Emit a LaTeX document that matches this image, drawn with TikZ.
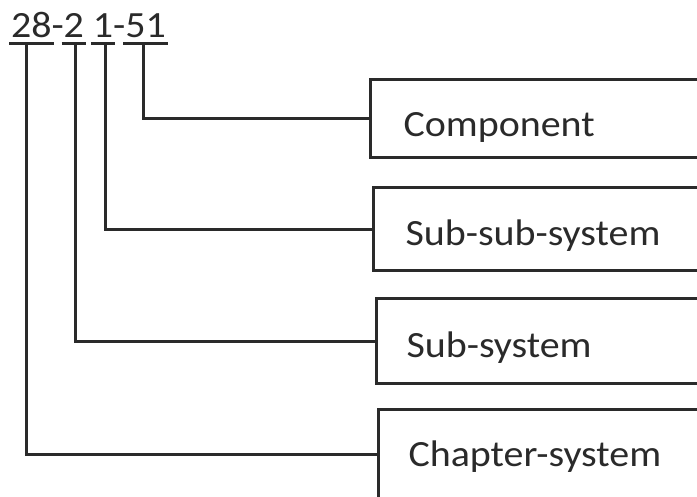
\documentclass[tikz,border=0pt]{standalone}
\usepackage{fontspec}
\setmainfont{Carlito}[FakeStretch=1.08]
\definecolor{ink}{HTML}{2A2A2A}
\begin{document}
\begin{tikzpicture}[x=1pt,y=-1pt,
  line width=3pt, draw=ink, text=ink,
  codepart/.style={inner sep=0pt, outer sep=0pt, anchor=base west, font=\fontsize{37}{40}\selectfont},
  levelbox/.style={draw=ink, line width=3pt, anchor=north west, minimum width=400pt, inner sep=0pt},
  levellabel/.style={inner sep=0pt, anchor=base west, font=\fontsize{37}{40}\selectfont},
  link/.style={draw=ink, line width=3pt, line cap=rect}
]
\useasboundingbox (0,0) rectangle (697,496);
\clip (0,0) rectangle (697,496);

% the part number, split into its fields
\node[codepart] (p28) at (11,37) {28};
\node[codepart] (h1) at (p28.base east) {-};
\node[codepart] (p2) at (h1.base east) {2};
\node[codepart] (p1) at ([xshift=9pt]p2.base east) {1};
\node[codepart] (h2) at (p1.base east) {-};
\node[codepart] (p51) at (h2.base east) {51};

% underlines of the fields
\foreach \f in {p28,p2,p1,p51}
  \draw[line width=3pt] ([xshift=-2pt]\f.west |- 0,43) -- ([xshift=2pt]\f.east |- 0,43);

% level boxes (open to the right; the last one runs past the bottom)
\node[levelbox, minimum height=78pt] (bComp) at (369,78) {};
\node[levelbox, minimum height=83pt] (bSubSub) at (372,186) {};
\node[levelbox, minimum height=85pt] (bSub) at (375,297) {};
\node[levelbox, minimum height=90pt] (bChap) at (377,408) {};

\node[levellabel] (tComp) at (402,136) {Component};
\node[levellabel] (tSubSub) at (404,245) {Sub-sub-system};
\node[levellabel] (tSub) at (405,357) {Sub-system};
\node[levellabel] (tChap) at (407,466) {Chapter-system};

% connectors from each field to its level
\draw[link] ([xshift=-2pt]p51.south |- 0,43) |- (bComp.west);
\draw[link] ([xshift=2pt]p1.south |- 0,43) |- (bSubSub.west);
\draw[link] ([xshift=2pt]p2.south |- 0,43) |- (bSub.west);
\draw[link] ([xshift=-5pt]p28.south |- 0,43) |- (bChap.west);
\end{tikzpicture}
\end{document}
